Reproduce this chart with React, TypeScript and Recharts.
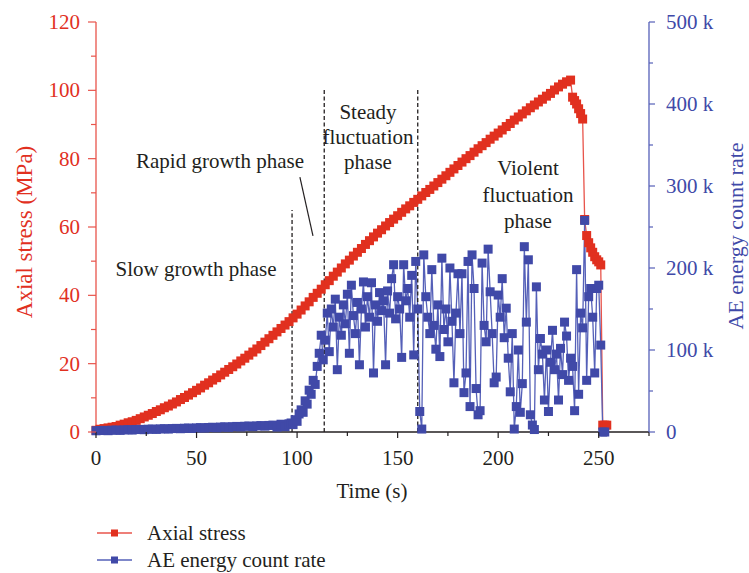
import React from 'react'
import { LineChart, Line, XAxis, YAxis, ReferenceLine } from 'recharts'

const RED = '#E1301F'
const RED_LINE = '#E8544B'
const BLUE = '#4049A8'
const BLUE_LINE = '#5560B8'
const INK = '#231F20'
const FONT = '"Liberation Serif", "Times New Roman", serif'

// axial stress (MPa): loading every 2 s from 0 s, failure every 1 s from 237 s
const stressLoading = [
  0.5, 0.8, 1.0, 1.2, 1.4, 1.6, 2.0, 2.3, 2.7, 3.0,
  3.4, 3.9, 4.4, 4.9, 5.4, 6.0, 6.5, 7.1, 7.6, 8.2,
  8.8, 9.5, 10.1, 10.8, 11.5, 12.2, 12.9, 13.7, 14.4, 15.2,
  15.9, 16.7, 17.5, 18.3, 19.1, 19.9, 20.8, 21.6, 22.5, 23.4,
  24.3, 25.3, 26.3, 27.3, 28.3, 29.3, 30.3, 31.3, 32.3, 33.4,
  34.5, 35.7, 36.9, 38.1, 39.4, 40.6, 41.8, 43.1, 44.3, 45.6,
  46.8, 48.0, 49.2, 50.3, 51.5, 52.6, 53.7, 54.9, 56.0, 57.1,
  58.2, 59.2, 60.3, 61.3, 62.3, 63.3, 64.3, 65.3, 66.2, 67.2,
  68.1, 69.1, 70.1, 71.0, 72.0, 73.0, 74.0, 75.0, 76.0, 77.0,
  78.0, 79.0, 80.0, 80.9, 81.9, 82.9, 83.8, 84.7, 85.7, 86.6,
  87.5, 88.4, 89.4, 90.3, 91.3, 92.2, 93.1, 94.0, 94.9, 95.7,
  96.6, 97.4, 98.3, 99.1, 100.1, 101.0, 101.8, 102.5, 103.0,
]
const stressFailure = [
  98.0, 97.0, 96.0, 94.6, 93.2, 91.6, 62.2, 57.5, 55.4, 53.9,
  52.6, 51.3, 50.4, 49.8, 48.9, 2.0, 2.0, 2.0,
]

// AE energy count rate (k): slow phase every 2 s, then every 1 s from 97 s
const aeSlow = [
  1.5, 1.8, 2.0, 1.6, 2.2, 2.4, 2.0, 2.6, 2.8, 2.4,
  3.0, 3.2, 2.8, 3.4, 3.6, 3.2, 3.8, 4.0, 3.6, 4.2,
  4.4, 4.0, 4.6, 4.8, 4.4, 5.0, 5.3, 4.8, 5.5, 5.8,
  5.2, 6.0, 6.3, 5.7, 6.5, 6.8, 6.2, 7.0, 7.3, 6.6,
  7.5, 7.8, 7.1, 8.0, 8.4, 6.0, 9.5, 6.5, 10.0,
]
const aeRapid = [11, 9, 15, 13, 22, 27, 24, 38, 34, 51, 46, 63, 58, 80, 96, 118, 88]
const aeSteady = [
  112, 145, 98, 150, 128, 162, 76, 140, 118, 155,
  132, 168, 96, 179, 142, 120, 158, 82, 150, 183,
  128, 165, 140, 182, 72, 155, 135, 170, 148, 160,
  82, 172, 145, 187, 204, 138, 165, 150, 91, 204,
  160, 175, 140, 191, 94, 208, 150,
]
const aeViolent = [
  25, 3.6, 216, 165, 140, 120, 198, 130, 101, 155,
  92, 212, 125, 150, 110, 200, 135, 60, 145, 193,
  120, 193, 48, 72, 208, 31, 216, 175, 53, 21,
  26, 206, 130, 110, 223, 171, 120, 60, 67, 167,
  140, 187, 115, 151, 90, 49, 120, 3.6, 31, 100,
  24, 59, 226, 134, 210, 21, 8.5, 3, 177, 76,
  114, 95, 39, 100, 25, 85, 124, 76, 95, 39,
  102, 70, 134, 117, 63, 90, 80, 26, 198, 46,
  145, 127, 258, 63, 165, 175, 140, 72, 175, 179,
  106, 0, 0,
]

const timeTicks = [0, 25, 50, 75, 100, 125, 150, 175, 200, 225, 250, 275]
const stressTicks = [0, 10, 20, 30, 40, 50, 60, 70, 80, 90, 100, 110, 120]
const aeTicks = [0, 50, 100, 150, 200, 250, 300, 350, 400, 450, 500]

// phase boundaries: time (s) and top of the dashed marker (MPa)
const phaseBounds = [
  { t: 97.5, top: 65 },
  { t: 113.5, top: 100.7 },
  { t: 160, top: 100.7 },
]

const seq = (start: number, step: number, values: number[]) =>
  values.map((v, i) => ({ t: start + i * step, v }))

const stressData = [...seq(0, 2, stressLoading), ...seq(237, 1, stressFailure)]
const aeData = [
  ...seq(0, 2, aeSlow),
  ...seq(97, 1, aeRapid),
  ...seq(114, 1, aeSteady),
  ...seq(161, 1, aeViolent),
]

const squareDot = (fill: string, size: number) => (p: any) => {
  if (p.cx == null || p.cy == null) return <g key={`e-${p.index}`} />
  return (
    <rect
      key={`d-${p.index}`}
      x={p.cx - size / 2}
      y={p.cy - size / 2}
      width={size}
      height={size}
      fill={fill}
    />
  )
}

const XTick = ({ x, y, payload }: any) => {
  const major = payload.value % 50 === 0 && payload.value <= 250
  return (
    <g>
      <line x1={x} x2={x} y1={y} y2={y + (major ? 6 : 4)} stroke={INK} strokeWidth={1.2} />
      {major && (
        <text x={x} y={y + 26} textAnchor='middle' dominantBaseline='central' fontFamily={FONT} fontSize={21} fill={INK}>
          {payload.value}
        </text>
      )}
    </g>
  )
}

const StressTick = ({ x, y, payload }: any) => {
  const major = payload.value % 20 === 0
  return (
    <g>
      <line x1={x} x2={x - (major ? 8 : 5)} y1={y} y2={y} stroke={RED_LINE} strokeWidth={1.2} />
      {major && (
        <text x={x - 16} y={y} textAnchor='end' dominantBaseline='central' fontFamily={FONT} fontSize={21} fill={RED}>
          {payload.value}
        </text>
      )}
    </g>
  )
}

const AeTick = ({ x, y, payload }: any) => {
  const major = payload.value % 100 === 0
  return (
    <g>
      <line x1={x} x2={x + (major ? 6 : 4)} y1={y} y2={y} stroke={BLUE_LINE} strokeWidth={1.2} />
      {major && (
        <text x={x + 17} y={y} textAnchor='start' dominantBaseline='central' fontFamily={FONT} fontSize={21} fill={BLUE}>
          {payload.value === 0 ? '0' : `${payload.value} k`}
        </text>
      )}
    </g>
  )
}

const Notes = () => {
  const t = (x: number, y: number, s: string, fill = INK, rotate = 0, size = 21) => (
    <text
      x={x}
      y={y}
      textAnchor='middle'
      dominantBaseline='central'
      fontFamily={FONT}
      fontSize={size}
      fill={fill}
      transform={rotate ? `rotate(${rotate} ${x} ${y})` : undefined}
    >
      {s}
    </text>
  )
  return (
    <svg width={749} height={573} style={{ position: 'absolute', left: 0, top: 0, pointerEvents: 'none' }}>
      {t(196, 269, 'Slow growth phase')}
      {t(220, 161, 'Rapid growth phase')}
      {t(368, 112, 'Steady')}
      {t(368, 137, 'fluctuation')}
      {t(368, 162, 'phase')}
      {t(528, 168, 'Violent')}
      {t(528, 195, 'fluctuation')}
      {t(528, 221, 'phase')}
      {t(372, 491, 'Time (s)')}
      {t(24, 232, 'Axial stress (MPa)', RED, -90, 23)}
      {t(735, 236, 'AE energy count rate', BLUE, -90, 22)}

      <line x1={97} x2={132} y1={533} y2={533} stroke={RED_LINE} strokeWidth={1.3} />
      <rect x={111} y={529.5} width={7} height={7} fill={RED} />
      <text x={147} y={533} dominantBaseline='central' fontFamily={FONT} fontSize={21} fill={INK}>
        Axial stress
      </text>
      <line x1={97} x2={132} y1={560} y2={560} stroke={BLUE_LINE} strokeWidth={1.3} />
      <rect x={111} y={556.5} width={7} height={7} fill={BLUE} />
      <text x={147} y={560} dominantBaseline='central' fontFamily={FONT} fontSize={21} fill={INK}>
        AE energy count rate
      </text>
    </svg>
  )
}

const App = () => {
  return (
    <div style={{ position: 'absolute', left: 0, top: 0, width: 749, height: 573, background: '#fff' }}>
      <LineChart width={749} height={573} margin={{ top: 22, right: 40, bottom: 81, left: 36 }}>
        <XAxis
          dataKey='t'
          type='number'
          domain={[0, 275]}
          ticks={timeTicks}
          interval={0}
          tickLine={false}
          tickSize={0}
          tickMargin={0}
          height={60}
          axisLine={{ stroke: INK, strokeWidth: 1.3 }}
          tick={(p: any) => <XTick {...p} />}
        />
        <YAxis
          yAxisId='stress'
          orientation='left'
          type='number'
          domain={[0, 120]}
          ticks={stressTicks}
          interval={0}
          tickLine={false}
          tickSize={0}
          tickMargin={0}
          width={60}
          axisLine={{ stroke: RED_LINE, strokeWidth: 1.3 }}
          tick={(p: any) => <StressTick {...p} />}
        />
        <YAxis
          yAxisId='ae'
          orientation='right'
          type='number'
          domain={[0, 500]}
          ticks={aeTicks}
          interval={0}
          tickLine={false}
          tickSize={0}
          tickMargin={0}
          width={60}
          axisLine={{ stroke: BLUE_LINE, strokeWidth: 1.3 }}
          tick={(p: any) => <AeTick {...p} />}
        />
        <Line
          yAxisId='stress'
          data={stressData}
          dataKey='v'
          name='Axial stress'
          stroke={RED_LINE}
          strokeWidth={1.3}
          dot={squareDot(RED, 9)}
          activeDot={false}
          isAnimationActive={false}
        />
        <Line
          yAxisId='ae'
          data={aeData}
          dataKey='v'
          name='AE energy count rate'
          stroke={BLUE_LINE}
          strokeWidth={1.3}
          dot={squareDot(BLUE, 9)}
          activeDot={false}
          isAnimationActive={false}
        />
        {phaseBounds.map((b) => (
          <ReferenceLine
            key={b.t}
            yAxisId='stress'
            segment={[{ x: b.t, y: 0 }, { x: b.t, y: b.top }]}
            stroke={INK}
            strokeWidth={1.3}
            strokeDasharray='4 2.5'
          />
        ))}
        <ReferenceLine
          yAxisId='stress'
          segment={[{ x: 101.4, y: 74.6 }, { x: 107.9, y: 57.4 }]}
          stroke={INK}
          strokeWidth={1.2}
        />
      </LineChart>
      <Notes />
    </div>
  )
}

export default App
